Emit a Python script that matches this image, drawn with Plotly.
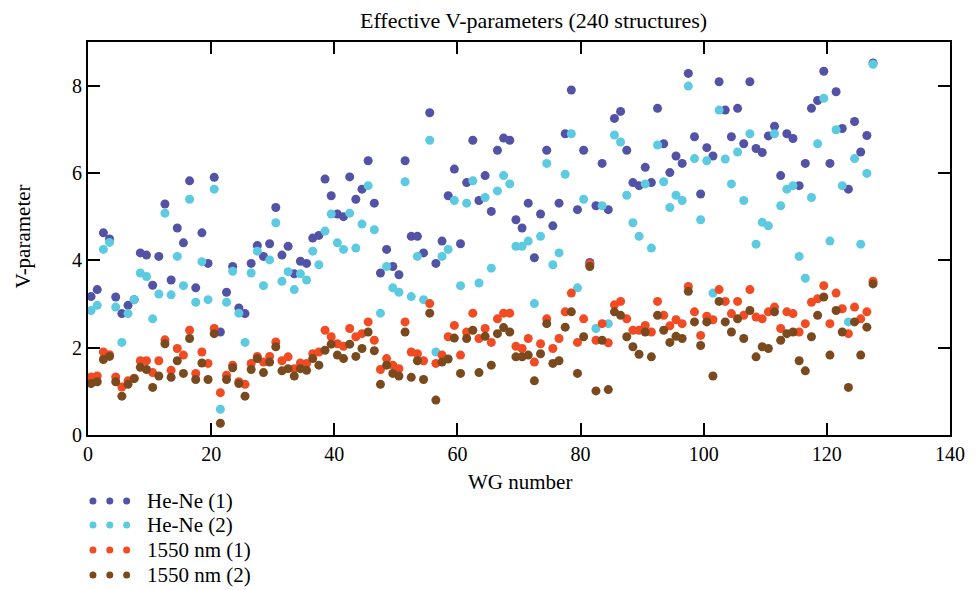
import numpy as np
import plotly.graph_objects as go

# WG index (points sit half a unit right of the integer grid)
wg = [i + 0.5 for i in range(128)]

hene_1 = [3.17, 3.33, 4.63, 4.49, 3.16, 2.78, 2.97, 3.10, 4.17, 4.12, 3.43, 4.09, 5.29, 3.55, 4.74, 4.40, 5.82, 3.37, 4.63, 3.93,
          5.90, 2.36, 3.27, 3.86, 2.91, 2.78, 3.93, 4.34, 4.09, 4.38, 5.21, 4.12, 4.32, 3.69, 3.98, 3.93, 4.51, 4.57, 5.86, 5.48,
          5.06, 5.00, 5.91, 5.40, 5.63, 6.28, 5.31, 3.71, 4.25, 3.86, 3.67, 6.28, 4.55, 4.55, 4.17, 7.38, 3.93, 4.44, 5.48, 6.09,
          4.38, 5.78, 6.75, 5.37, 5.94, 5.12, 6.52, 6.80, 6.75, 4.93, 4.74, 5.31, 4.06, 5.06, 6.52, 4.79, 5.31, 6.90, 7.90, 5.16,
          6.52, 3.95, 5.25, 6.22, 5.16, 7.25, 7.41, 6.52, 5.78, 5.71, 6.13, 5.78, 7.48, 6.67, 6.01, 6.39, 6.22, 8.28, 6.83, 5.52,
          6.58, 6.39, 8.09, 7.44, 6.83, 7.48, 6.67, 8.09, 6.56, 6.47, 6.85, 7.07, 5.94, 6.90, 6.79, 5.71, 6.22, 7.48, 7.66, 8.33,
          6.22, 7.86, 7.02, 5.63, 7.18, 6.48, 6.86, 8.52]

hene_2 = [2.85, 2.97, 4.25, 4.41, 2.93, 2.12, 2.78, 3.10, 3.71, 3.63, 2.66, 3.23, 5.08, 3.21, 4.09, 3.42, 5.40, 3.04, 3.97, 3.10,
          5.63, 0.59, 3.04, 3.75, 2.79, 2.12, 3.71, 4.21, 3.42, 4.01, 4.86, 3.52, 3.74, 3.33, 3.69, 3.55, 4.21, 3.90, 4.67, 5.06,
          4.40, 4.25, 5.08, 4.28, 4.83, 5.71, 4.70, 2.79, 3.86, 3.37, 3.27, 5.80, 3.17, 4.09, 3.10, 6.75, 1.90, 4.09, 4.25, 5.37,
          3.42, 5.31, 5.82, 3.48, 5.44, 3.82, 5.59, 5.94, 5.75, 4.32, 4.32, 4.44, 3.01, 4.55, 6.22, 3.90, 4.17, 5.97, 6.90, 3.37,
          5.40, 3.90, 2.44, 5.25, 2.55, 6.87, 6.71, 5.49, 4.86, 4.55, 5.75, 4.28, 6.64, 5.80, 5.21, 5.49, 5.37, 7.99, 6.33, 4.93,
          6.28, 3.25, 7.44, 6.32, 5.75, 6.48, 5.37, 6.90, 4.37, 4.87, 4.79, 6.90, 5.25, 5.63, 5.71, 4.09, 3.59, 5.44, 6.67, 7.71,
          4.44, 6.99, 5.71, 2.59, 6.33, 4.37, 5.99, 8.49]

nm1550_1 = [1.33, 1.35, 1.90, 1.84, 1.33, 1.10, 1.24, 1.30, 1.70, 1.70, 1.43, 1.70, 2.18, 1.48, 1.98, 1.83, 2.40, 1.41, 1.90, 1.64,
            2.44, 0.97, 1.37, 1.60, 1.22, 1.16, 1.64, 1.80, 1.67, 1.80, 2.13, 1.70, 1.79, 1.52, 1.65, 1.64, 1.86, 1.90, 2.40, 2.25,
            2.09, 2.03, 2.44, 2.25, 2.32, 2.59, 2.17, 1.50, 1.75, 1.60, 1.52, 2.59, 1.90, 1.86, 1.70, 3.01, 1.64, 1.83, 2.25, 2.51,
            1.83, 2.36, 2.79, 2.21, 2.44, 2.12, 2.66, 2.79, 2.79, 2.03, 1.98, 2.21, 1.67, 2.09, 2.66, 1.98, 2.21, 2.82, 3.25, 2.12,
            2.66, 3.92, 2.17, 2.55, 2.11, 2.98, 3.06, 2.66, 2.40, 2.40, 2.51, 2.36, 3.06, 2.74, 2.50, 2.64, 2.55, 3.40, 2.82, 2.28,
            2.72, 2.64, 3.33, 3.06, 2.78, 3.06, 2.74, 3.33, 2.70, 2.66, 2.82, 2.93, 2.44, 2.82, 2.78, 2.36, 2.55, 3.04, 3.12, 3.42,
            2.55, 3.25, 2.89, 2.32, 2.93, 2.66, 2.82, 3.52]

nm1550_2 = [1.18, 1.22, 1.73, 1.80, 1.22, 0.89, 1.16, 1.29, 1.55, 1.50, 1.09, 1.35, 2.09, 1.32, 1.70, 1.41, 2.21, 1.27, 1.65, 1.27,
            2.32, 0.27, 1.27, 1.54, 1.18, 0.89, 1.50, 1.75, 1.43, 1.67, 2.02, 1.47, 1.52, 1.35, 1.52, 1.48, 1.75, 1.60, 1.94, 2.08,
            1.83, 1.75, 2.08, 1.80, 1.98, 2.36, 1.93, 1.16, 1.60, 1.41, 1.35, 2.36, 1.32, 1.70, 1.27, 2.79, 0.80, 1.67, 1.74, 2.22,
            1.41, 2.21, 2.40, 1.43, 2.26, 1.60, 2.32, 2.46, 2.36, 1.79, 1.79, 1.83, 1.24, 1.86, 2.55, 1.64, 1.70, 2.47, 2.82, 1.41,
            2.25, 3.86, 1.01, 2.17, 1.04, 2.82, 2.74, 2.25, 2.02, 1.85, 2.36, 1.79, 2.74, 2.40, 2.12, 2.26, 2.21, 3.29, 2.59, 2.05,
            2.59, 1.35, 3.06, 2.59, 2.36, 2.66, 2.21, 2.85, 1.79, 2.02, 1.98, 2.82, 2.17, 2.32, 2.36, 1.70, 1.47, 2.25, 2.74, 3.16,
            1.83, 2.85, 2.36, 1.09, 2.59, 1.83, 2.47, 3.46]

series_names = ["He-Ne (1)", "He-Ne (2)", "1550 nm (1)", "1550 nm (2)"]
series_values = [hene_1, hene_2, nm1550_1, nm1550_2]
colors = ["#5252A6", "#5CCAE0", "#F24A22", "#7A4A1E"]

x_ticks = [0, 20, 40, 60, 80, 100, 120, 140]
y_ticks = [0, 2, 4, 6, 8]

FONT = "Liberation Serif, Times New Roman, serif"

fig = go.Figure()
for name, vals, col in zip(series_names, series_values, colors):
    fig.add_trace(go.Scatter(x=wg, y=vals, mode="markers", name=name,
                             marker=dict(color=col, size=9, line=dict(width=0)),
                             showlegend=False))

# page has an 8px body margin; work in page pixels and convert
OFF = 8
W, H = 969, 582
PL, PR, PT, PB = 88, 958, 42, 435        # plot area in page pixels
L = PL - OFF
T = PT - OFF
R = W - (PR - OFF)
B = H - (PB - OFF)
pw, ph = W - L - R, H - T - B

def pg(px, py):
    return (px - PL) / (PR - PL), (PB - py) / (PB - PT)

shapes = []
annotations = []
rows_y = [501, 525, 550, 575]
dot_x = [93, 110, 127]
for name, col, ry in zip(series_names, colors, rows_y):
    for dx in dot_x:
        xa, ya = pg(dx, ry)
        shapes.append(dict(type="circle", xref="paper", yref="paper",
                           xsizemode="pixel", ysizemode="pixel",
                           xanchor=xa, yanchor=ya, x0=-3.5, x1=3.5, y0=-3.5, y1=3.5,
                           fillcolor=col, line=dict(width=0)))
    xa, ya = pg(146, ry)
    annotations.append(dict(text=name, xref="paper", yref="paper", x=xa, y=ya,
                            xanchor="left", yanchor="middle", showarrow=False,
                            font=dict(family=FONT, size=21, color="black")))

# title and axis titles
xa, ya = pg(538, 20)
annotations.append(dict(text="Effective V-parameters (240 structures)", xref="paper", yref="paper",
                        x=xa, y=ya, xanchor="center", yanchor="middle", showarrow=False,
                        font=dict(family=FONT, size=22, color="black")))
xa, ya = pg(524, 482)
annotations.append(dict(text="WG number", xref="paper", yref="paper",
                        x=xa, y=ya, xanchor="center", yanchor="middle", showarrow=False,
                        font=dict(family=FONT, size=21, color="black")))
xa, ya = pg(22, 237)
annotations.append(dict(text="V-parameter", xref="paper", yref="paper", textangle=-90,
                        x=xa, y=ya, xanchor="center", yanchor="middle", showarrow=False,
                        font=dict(family=FONT, size=21, color="black")))

fig.update_layout(
    width=W, height=H,
    margin=dict(l=L, r=R, t=T, b=B),
    paper_bgcolor="white", plot_bgcolor="white",
    font=dict(family=FONT, size=20, color="black"),
    xaxis=dict(range=[0, 140], tickvals=x_ticks, ticks="inside", ticklen=12, tickwidth=1.5,
               tickcolor="black", showline=True, linecolor="black", linewidth=2, mirror="ticks",
               showgrid=False, zeroline=False, tickfont=dict(family=FONT, size=20)),
    yaxis=dict(range=[0, 9], tickvals=y_ticks, ticks="inside", ticklen=12, tickwidth=1.5,
               tickcolor="black", showline=True, linecolor="black", linewidth=2, mirror="ticks",
               showgrid=False, zeroline=False, tickfont=dict(family=FONT, size=20)),
    shapes=shapes, annotations=annotations,
)

fig.write_html("out.html")
